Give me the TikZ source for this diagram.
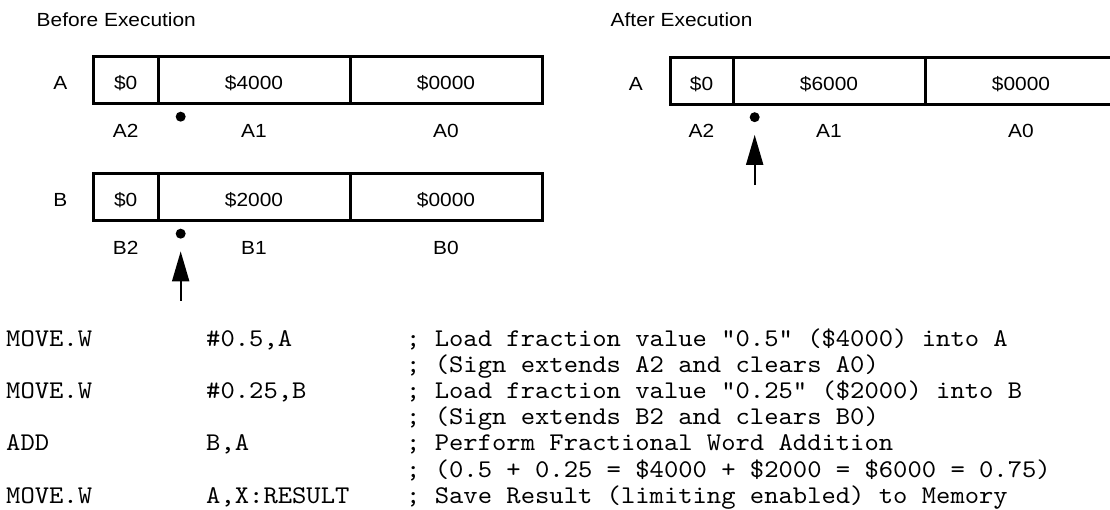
\documentclass[tikz,border=0pt]{standalone}
\usepackage{fontspec}
\setmainfont[FakeStretch=1.1]{Liberation Sans}
\newfontfamily\codefont[FakeStretch=1.07]{lmmono10-regular.otf}
\usepackage{tikz}
\usetikzlibrary{positioning, arrows.meta}

\begin{document}
\begin{tikzpicture}[
    x=1pt, y=1pt,
    node distance=14pt,
    cell/.style={
        draw,
        rectangle,
        line width=3pt,
        outer sep=0pt,
        inner sep=1pt,
        minimum height=47pt,
        text height=19pt,
        text depth=0pt,
        font=\fontsize{19}{23}\selectfont
    },
    lbl/.style={
        inner sep=0pt,
        text height=19pt,
        text depth=0pt,
        font=\fontsize{19}{23}\selectfont
    },
    dot/.style={
        circle,
        fill,
        inner sep=0pt,
        minimum size=10pt
    },
    arr/.style={
        line width=2pt,
        -{Triangle[length=30pt, width=17pt]},
        shorten >=12.5pt
    },
    code/.style={
        anchor=base west,
        inner sep=0pt,
        font=\codefont\fontsize{25.5}{29}\selectfont
    }
]
\useasboundingbox (0,0) rectangle (1110,-510);

% before execution
\node[lbl, anchor=base west] (before) at (36.5,-27) {Before Execution};

\node[cell, minimum width=64.5pt, anchor=north west] (a2) at (93.5,-57) {\$0};
\node[cell, minimum width=192pt, right=0pt of a2] (a1) {\$4000};
\node[cell, minimum width=192pt, right=0pt of a1] (a0) {\$0000};
\node[lbl, left=26pt of a2] (la) {A};
\node[lbl, below=of a2] (la2) {A2};
\node[lbl, below=of a1] (la1) {A1};
\node[lbl, below=of a0] (la0) {A0};
\node[dot, on grid, below right=9pt and 19pt of a1.south west] (da) {};

\node[cell, minimum width=64.5pt, below=70pt of a2] (b2) {\$0};
\node[cell, minimum width=192pt, right=0pt of b2] (b1) {\$2000};
\node[cell, minimum width=192pt, right=0pt of b1] (b0) {\$0000};
\node[lbl, left=26pt of b2] (lb) {B};
\node[lbl, below=of b2] (lb2) {B2};
\node[lbl, below=of b1] (lb1) {B1};
\node[lbl, below=of b0] (lb0) {B0};
\node[dot, on grid, below right=9pt and 19pt of b1.south west] (db) {};
\coordinate[on grid, below=67pt of db] (tb);

% after execution
\node[lbl, anchor=base west] (after) at (610.5,-27) {After Execution};

\node[cell, minimum width=63pt, anchor=north west] (r2) at (670,-57.5) {\$0};
\node[cell, minimum width=192pt, right=0pt of r2] (r1) {\$6000};
\node[cell, minimum width=192pt, right=0pt of r1] (r0) {\$0000};
\node[lbl, left=27pt of r2] (lr) {A};
\node[lbl, below=of r2] (lr2) {A2};
\node[lbl, below=of r1] (lr1) {A1};
\node[lbl, below=of r0] (lr0) {A0};
\node[dot, on grid, below right=9pt and 18pt of r1.south west] (dr) {};
\coordinate[on grid, below=68pt of dr] (tr);

% pointers
\path[arr]
(tb) edge (db)
(tr) edge (dr);

% code
\node[code] (op1) at (6,-346) {MOVE.W};
\node[code] (arg1) at (206,-346) {\#0.5,A};
\node[code] (cm1) at (406,-346) {; Load fraction value “0.5” (\$4000) into A};
\node[code] (cm2) at (406,-372.2) {; (Sign extends A2 and clears A0)};
\node[code] (op3) at (6,-398.4) {MOVE.W};
\node[code] (arg3) at (206,-398.4) {\#0.25,B};
\node[code] (cm3) at (406,-398.4) {; Load fraction value “0.25” (\$2000) into B};
\node[code] (cm4) at (406,-424.6) {; (Sign extends B2 and clears B0)};
\node[code] (op5) at (6,-450.8) {ADD};
\node[code] (arg5) at (206,-450.8) {B,A};
\node[code] (cm5) at (406,-450.8) {; Perform Fractional Word Addition};
\node[code] (cm6) at (406,-477) {; (0.5 + 0.25 = \$4000 + \$2000 = \$6000 = 0.75)};
\node[code] (op7) at (6,-503.2) {MOVE.W};
\node[code] (arg7) at (206,-503.2) {A,X:RESULT};
\node[code] (cm7) at (406,-503.2) {; Save Result (limiting enabled) to Memory};
\end{tikzpicture}
\end{document}
